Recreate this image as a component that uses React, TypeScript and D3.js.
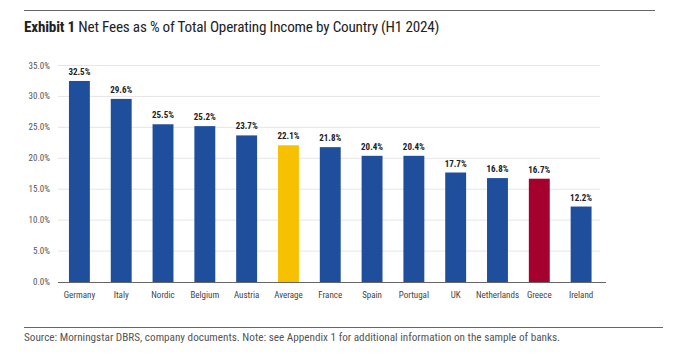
import React from "react";
import * as d3 from "d3";

const categories = ["Germany", "Italy", "Nordic", "Belgium", "Austria", "Average", "France", "Spain", "Portugal", "UK", "Netherlands", "Greece", "Ireland"];
const values = [32.5, 29.6, 25.5, 25.2, 23.7, 22.1, 21.8, 20.4, 20.4, 17.7, 16.8, 16.7, 12.2];
const yTicks = [0, 5, 10, 15, 20, 25, 30, 35];
const highlight: Record<string, string> = { Average: "#F5C100", Greece: "#A6002F" };

const FONT = "'Liberation Sans Narrow', 'Roboto Condensed', 'Arial Narrow', sans-serif";

export default function App() {
  const W = 700, H = 355;
  const x = d3.scaleBand<string>().domain(categories).range([58.5, 602]).paddingInner(0.5).paddingOuter(0.25);
  const y = d3.scaleLinear().domain([0, 35]).range([282, 65.5]);
  const fmt = (v: number) => v.toFixed(1) + "%";
  return (
    <svg width={W} height={H} style={{ position: "absolute", left: 0, top: 0, background: "#fff" }} fontFamily={FONT}>
      <line x1={24} x2={655} y1={10.5} y2={10.5} stroke="#666" strokeWidth={1} />
      <text x={24} y={32} fontSize={15.2} fill="#222" letterSpacing={-0.2}>
        <tspan fontWeight="bold">Exhibit 1</tspan>
        <tspan> Net Fees as % of Total Operating Income by Country (H1 2024)</tspan>
      </text>
      {yTicks.map((t) => (
        <g key={t}>
          {t > 0 && <line x1={58} x2={600} y1={y(t)} y2={y(t)} stroke="#e6e6e6" strokeWidth={1} />}
          <text x={50} y={y(t) + 3} fontSize={9} textAnchor="end" fill="#555">{fmt(t)}</text>
        </g>
      ))}
      {categories.map((c, i) => (
        <g key={c}>
          <rect x={x(c)} y={y(values[i])} width={x.bandwidth()} height={y(0) - y(values[i])} fill={highlight[c] || "#1F4E9C"} />
          <text x={(x(c) as number) + x.bandwidth() / 2} y={y(values[i]) - 6} fontSize={9} fontWeight="bold" textAnchor="middle" fill="#222">{fmt(values[i])}</text>
          <text x={(x(c) as number) + x.bandwidth() / 2} y={298} fontSize={9} textAnchor="middle" fill="#444">{c}</text>
        </g>
      ))}
      <line x1={58} x2={606} y1={282.5} y2={282.5} stroke="#666" strokeWidth={1} />
      <line x1={24} x2={663} y1={327.5} y2={327.5} stroke="#666" strokeWidth={1} />
      <text x={24} y={341} fontSize={11.2} fill="#555">Source: Morningstar DBRS, company documents. Note: see Appendix 1 for additional information on the sample of banks.</text>
    </svg>
  );
}
